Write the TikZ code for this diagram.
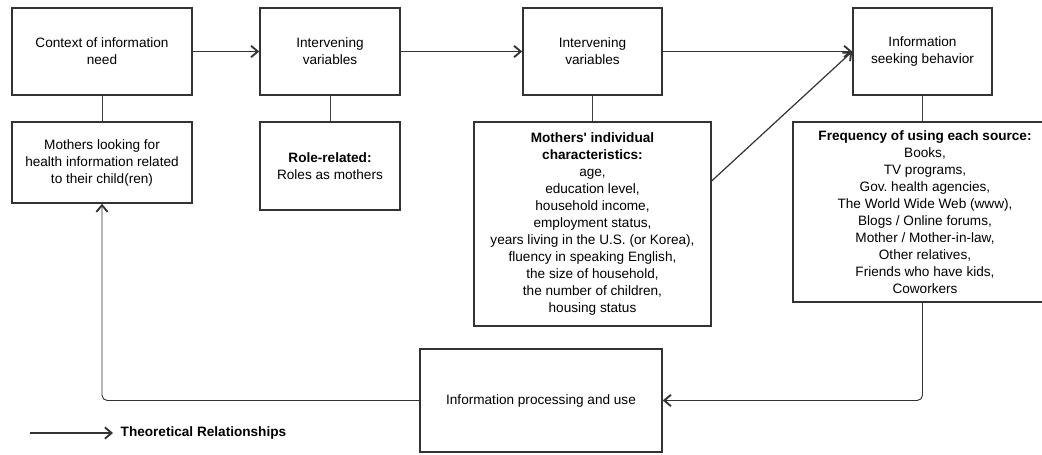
\documentclass[tikz,border=0pt]{standalone}
\usepackage{fontspec}
\setmainfont{Liberation Sans}[Ligatures=TeXOff]
\usetikzlibrary{arrows.meta,calc}
\begin{document}
\begin{tikzpicture}[x=0.75pt,y=-0.75pt,
    font=\fontsize{10.2}{12.75}\selectfont,
    box/.style={draw=black!80,line width=1.2pt,align=center,inner sep=0pt},
    link/.style={draw=black!75,line width=0.7pt},
    flow/.style={draw=black!80,line width=0.9pt,
      -{Straight Barb[length=5pt,width=8.5pt,line width=1.4pt]}}]

    \useasboundingbox (0,0) rectangle (1042,454);

    % top row
    \node[box,minimum width=135pt,minimum height=65.25pt] (ctx) at (102,51.5)
         {Context of information\\need};
    \node[box,minimum width=105pt,minimum height=65.25pt] (iv1) at (330,51.5)
         {Intervening\\variables};
    \node[box,minimum width=104.25pt,minimum height=65.25pt] (iv2) at (592.5,51.5)
         {Intervening\\variables};
    \node[box,minimum width=104.25pt,minimum height=65.25pt] (isb) at (922.5,51.5)
         {Information\\seeking behavior};

    % detail boxes
    \node[box,minimum width=135pt,minimum height=60.75pt] (mom) at (102,162.5)
         {Mothers looking for\\health information related\\to their child(ren)};
    \node[box,minimum width=105pt,minimum height=66pt] (role) at (330,166)
         {\textbf{Role-related:}\\Roles as mothers};
    \node[box,minimum width=177.75pt,minimum height=153pt] (indiv) at (592.5,224)
         {\textbf{Mothers' individual}\\\textbf{characteristics:}\\age,\\education level,\\
          household income,\\employment status,\\years living in the U.S. (or Korea),\\
          fluency in speaking English,\\the size of household,\\the number of children,\\
          housing status};
    \node[box,minimum width=198pt,minimum height=135pt] (freq) at (925,212)
         {\textbf{Frequency of using each source:}\\Books,\\TV programs,\\Gov.\ health agencies,\\
          The World Wide Web (www),\\Blogs / Online forums,\\Mother / Mother-in-law,\\
          Other relatives,\\Friends who have kids,\\Coworkers};
    \node[box,minimum width=181.5pt,minimum height=77.25pt] (proc) at (541,400.5)
         {Information processing and use};

    \draw[flow] (ctx.east) -- (iv1.west);
    \draw[flow] (iv1.east) -- (iv2.west);
    \draw[flow] (iv2.east) -- (isb.west);
    \draw[flow] ($(indiv.north east)!0.29!(indiv.south east)$) -- (isb.west);

    \draw[link] (ctx.south) -- (mom.north);
    \draw[link] (iv1.south) -- (role.north);
    \draw[link] (iv2.south) -- (indiv.north);
    \draw[link] (isb.south) -- (isb.south |- freq.north);

    % feedback loop
    \draw[flow,line width=0.7pt,rounded corners=4pt] (isb.south |- freq.south) |- (proc.east);
    \draw[flow,line width=0.7pt,rounded corners=4pt] (proc.west) -| (mom.south);

    % legend
    \coordinate (lg) at (30,433);
    \draw[flow] (lg) -- ++(83,0) node[right=2pt,font=\fontsize{10.2}{12.75}\bfseries] (lgtext)
         {Theoretical Relationships};
\end{tikzpicture}
\end{document}
